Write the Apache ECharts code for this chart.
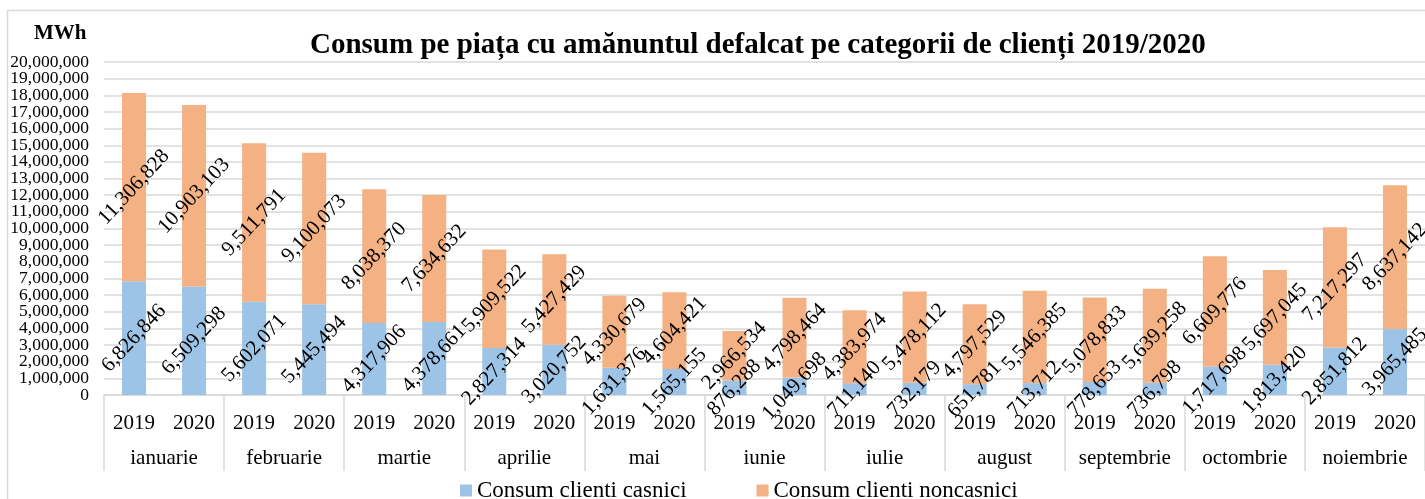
<!DOCTYPE html>
<html>
<head>
<meta charset="utf-8">
<style>
  html, body { margin: 0; padding: 0; background: #fff; }
  #chart { width: 1425px; height: 499px; }
</style>
<script src="https://cdn.jsdelivr.net/npm/echarts@6/dist/echarts.min.js"></script>
</head>
<body>
<div id="chart"></div>
<script>
const months = ['ianuarie', 'februarie', 'martie', 'aprilie', 'mai', 'iunie', 'iulie', 'august', 'septembrie', 'octombrie', 'noiembrie']
const years = ['2019', '2020']
const casnici = [6826846, 6509298, 5602071, 5445494, 4317906, 4378661, 2827314, 3020752, 1631376, 1565155, 876288, 1049698, 711140, 732179, 651781, 713712, 778653, 736798, 1717698, 1813420, 2851812, 3965485]
const noncasnici = [11306828, 10903103, 9511791, 9100073, 8038370, 7634632, 5909522, 5427429, 4330679, 4604421, 2966534, 4798464, 4383974, 5478112, 4797529, 5546385, 5078833, 5639258, 6609776, 5697045, 7217297, 8637142]

const serif = '"Liberation Serif", "Times New Roman", serif'
const fmt = v => String(v).replace(/\B(?=(\d{3})+(?!\d))/g, ',')

// one category per (month, year) pair
const cats = []
months.forEach(m => years.forEach(y => cats.push(m + ' ' + y)))

const chart = echarts.init(document.getElementById('chart'))

const barLabel = {
  show: true,
  position: 'inside',
  rotate: 47,
  color: '#000',
  fontFamily: serif,
  fontSize: 21,
  formatter: p => fmt(p.value)
}

const yLabel = {
  margin: 15,
  color: '#000',
  fontFamily: serif,
  fontSize: 17.5,
  formatter: v => fmt(v)
}

chart.setOption({
  animation: false,
  textStyle: { fontFamily: serif },
  title: [
    {
      text: 'Consum pe piața cu amănuntul defalcat pe categorii de clienți 2019/2020',
      left: 305,
      top: 26,
      textStyle: { fontFamily: serif, fontSize: 29, fontWeight: 'bold', color: '#000' }
    },
    {
      text: 'MWh',
      left: 29,
      top: 18,
      textStyle: { fontFamily: serif, fontSize: 21, fontWeight: 'bold', color: '#000' }
    }
  ],
  graphic: [
    {
      type: 'rect',
      shape: { x: 7.5, y: 10.5, width: 1440, height: 520 },
      style: { fill: 'none', stroke: '#d9d9d9', lineWidth: 1.5 },
      silent: true
    }
  ],
  legend: {
    data: ['Consum clienti casnici', 'Consum clienti noncasnici'],
    left: 455,
    top: 474,
    itemWidth: 12,
    itemHeight: 12,
    itemGap: 70,
    icon: 'rect',
    textStyle: { fontFamily: serif, fontSize: 23, color: '#000' }
  },
  grid: { left: 104, right: -3, top: 62, bottom: 104, containLabel: false },
  xAxis: [
    {
      type: 'category',
      data: cats,
      axisLine: { lineStyle: { color: '#d9d9d9', width: 1.5 } },
      axisTick: { show: false },
      axisLabel: {
        interval: 0,
        margin: 18,
        color: '#000',
        fontFamily: serif,
        fontSize: 21,
        formatter: v => v.split(' ')[1]
      }
    },
    {
      type: 'category',
      data: months,
      position: 'bottom',
      axisLine: { show: false },
      axisTick: { show: true, length: 76, interval: 0, lineStyle: { color: '#d9d9d9', width: 1.5 } },
      axisLabel: {
        interval: 0,
        margin: 53,
        color: '#000',
        fontFamily: serif,
        fontSize: 21
      }
    }
  ],
  yAxis: [
    {
      // inner ticks 1M..19M with gridlines
      type: 'value',
      position: 'left',
      min: 0,
      max: 20000000,
      interval: 1000000,
      axisLine: { show: false },
      axisTick: { show: false },
      splitLine: { lineStyle: { color: '#d9d9d9', width: 1.5 } },
      axisLabel: Object.assign({}, yLabel, { showMinLabel: false, showMaxLabel: false })
    },
    {
      // end labels 0 and 20M
      type: 'value',
      position: 'left',
      min: 0,
      max: 20000000,
      interval: 20000000,
      axisLine: { show: false },
      axisTick: { show: false },
      splitLine: { show: false },
      axisLabel: yLabel
    }
  ],
  series: [
    {
      name: 'Consum clienti casnici',
      type: 'bar',
      stack: 'total',
      xAxisIndex: 0,
      yAxisIndex: 0,
      barWidth: '40%',
      itemStyle: { color: '#9dc3e6' },
      label: barLabel,
      data: casnici
    },
    {
      name: 'Consum clienti noncasnici',
      type: 'bar',
      stack: 'total',
      xAxisIndex: 0,
      yAxisIndex: 0,
      barWidth: '40%',
      itemStyle: { color: '#f4b183' },
      label: barLabel,
      data: noncasnici
    }
  ]
})
</script>
</body>
</html>
